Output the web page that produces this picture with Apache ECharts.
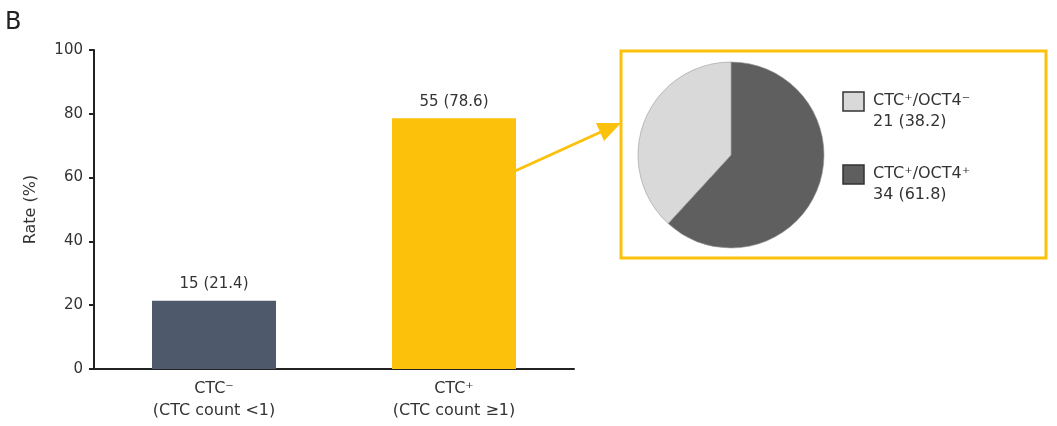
<!DOCTYPE html>
<html>
<head>
<meta charset="utf-8">
<script src="https://cdn.jsdelivr.net/npm/echarts@6/dist/echarts.min.js"></script>
<style>
  html, body { margin: 0; padding: 0; background: #fff; }
  #chart { width: 1057px; height: 426px; }
</style>
</head>
<body>
<div id="chart"></div>
<script>
// bar part
var categories = ['CTC\u207B\n(CTC count <1)', 'CTC\u207A\n(CTC count \u22651)'];
var barCounts = [15, 55];
var barRates = [21.4, 78.6];
var barColors = ['#4e596b', '#fcc10b'];
var yTicks = [0, 20, 40, 60, 80, 100];

// pie part (CTC+ split by OCT4)
var pieNames = ['CTC\u207A/OCT4\u207A', 'CTC\u207A/OCT4\u207B'];
var pieCounts = [34, 21];
var piePcts = [61.8, 38.2];
var pieColors = ['#5f5f5f', '#d9d9d9'];

var font = 'DejaVu Sans';
var txt = '#333';

var myChart = echarts.init(document.getElementById('chart'));

var barData = barRates.map(function (v, i) {
  return { value: v, itemStyle: { color: barColors[i] } };
});
var pieData = pieCounts.map(function (v, i) {
  return { name: pieNames[i], value: v, itemStyle: { color: pieColors[i] } };
});

// legend drawn by hand: light slice first, then dark
var legendOrder = [1, 0];
var legendTops = [92, 165];
var legendGraphics = [];
legendOrder.forEach(function (idx, k) {
  legendGraphics.push({
    type: 'rect',
    shape: { x: 843, y: legendTops[k], width: 21, height: 19 },
    style: { fill: pieColors[idx], stroke: '#333', lineWidth: 1.5 }
  });
  legendGraphics.push({
    type: 'text',
    x: 873,
    y: legendTops[k] - 2,
    style: {
      text: pieNames[idx] + '\n' + pieCounts[idx] + ' (' + piePcts[idx].toFixed(1) + ')',
      fontSize: 16, lineHeight: 21, fill: txt, fontFamily: font, verticalAlign: 'top'
    }
  });
});

var option = {
  animation: false,
  textStyle: { fontFamily: font },
  grid: { left: 94, right: 483, top: 50, bottom: 57 },
  xAxis: {
    type: 'category',
    data: categories,
    axisLine: { lineStyle: { color: '#222', width: 2 } },
    axisTick: { alignWithLabel: true, length: 5, lineStyle: { color: '#222', width: 2 } },
    axisLabel: { color: txt, fontSize: 16, lineHeight: 22, margin: 9, fontFamily: font }
  },
  yAxis: {
    type: 'value',
    min: yTicks[0],
    max: yTicks[yTicks.length - 1],
    interval: 20,
    name: 'Rate (%)',
    nameLocation: 'middle',
    nameGap: 55,
    nameTextStyle: { color: txt, fontSize: 16, fontFamily: font },
    splitLine: { show: false },
    axisLine: { show: true, lineStyle: { color: '#222', width: 2 } },
    axisTick: { show: true, length: 5, lineStyle: { color: '#222', width: 2 } },
    axisLabel: { color: txt, fontSize: 15, margin: 11, fontFamily: font }
  },
  series: [
    {
      type: 'bar',
      data: barData,
      barWidth: 124,
      label: {
        show: true,
        position: 'top',
        distance: 9,
        color: txt,
        fontSize: 15,
        fontFamily: font,
        formatter: function (p) {
          return barCounts[p.dataIndex] + ' (' + barRates[p.dataIndex].toFixed(1) + ')';
        }
      }
    },
    {
      type: 'pie',
      center: [731, 155],
      radius: 93,
      startAngle: 90,
      clockwise: true,
      data: pieData,
      label: { show: false },
      labelLine: { show: false },
      itemStyle: { borderColor: '#999', borderWidth: 0.6 },
      emphasis: { disabled: true }
    }
  ],
  graphic: [
    { type: 'text', left: 5, top: 11, style: { text: 'B', fontSize: 24, fill: '#222', fontFamily: font } },
    { type: 'rect', shape: { x: 621, y: 51, width: 425, height: 207 },
      style: { fill: 'none', stroke: '#fcc10b', lineWidth: 3 } },
    { type: 'line', shape: { x1: 515, y1: 171, x2: 603, y2: 131 },
      style: { stroke: '#fcc10b', lineWidth: 3 } },
    { type: 'polygon', shape: { points: [[621, 123], [604, 141], [596, 123]] },
      style: { fill: '#fcc10b' } }
  ].concat(legendGraphics)
};
myChart.setOption(option);
</script>
</body>
</html>
